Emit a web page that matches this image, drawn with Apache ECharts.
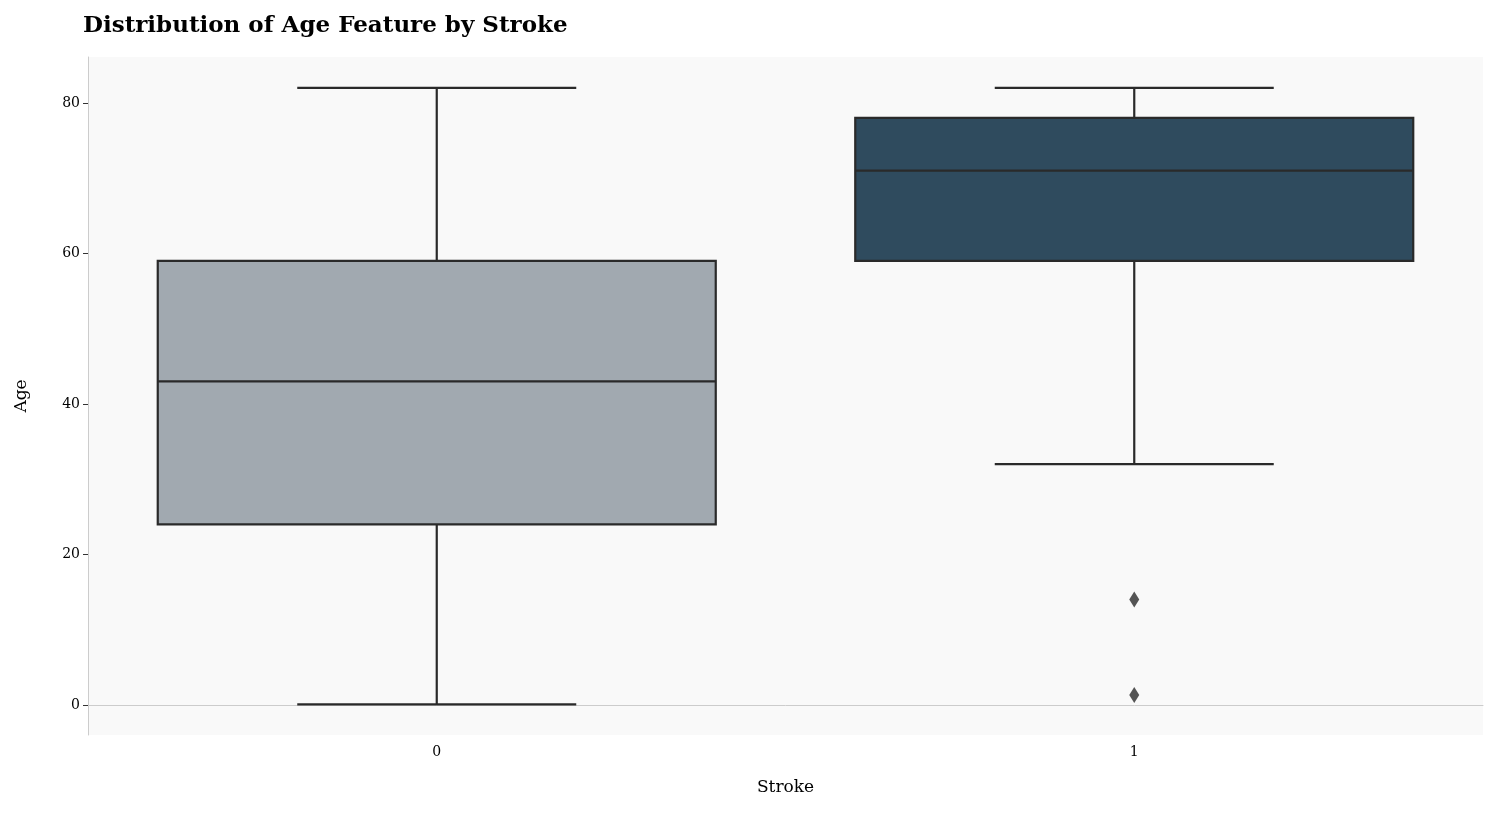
<!DOCTYPE html>
<html>
<head>
<meta charset="utf-8">
<script src="https://cdn.jsdelivr.net/npm/echarts@6/dist/echarts.min.js"></script>
<style>html,body{margin:0;padding:0;background:#fff}#chart{width:1497px;height:816px}</style>
</head>
<body>
<div id="chart"></div>
<script>
var categories = ['0', '1'];
// [min, q1, median, q3, max]
var boxStats = [
    [0.08, 24, 43, 59, 82],
    [32, 59, 71, 78, 82]
];
var outliers = [[1, 14], [1, 1.32]];
var boxColors = ['#a1a9b0', '#2f4b5e'];
var yTicks = [0, 20, 40, 60, 80];

var font = 'DejaVu Serif';
var boxData = boxStats.map(function (s, i) { return [i].concat(s); });

var myChart = echarts.init(document.getElementById('chart'));
var option = {
    backgroundColor: '#fff',
    title: {
        text: 'Distribution of Age Feature by Stroke',
        left: 78, top: 10,
        textStyle: { fontFamily: font, fontWeight: 'bold', fontSize: 23, color: '#000' }
    },
    grid: { left: 88, right: 14, top: 57, bottom: 81, show: true, backgroundColor: '#f9f9f9', borderWidth: 0 },
    xAxis: {
        type: 'category', data: categories, name: 'Stroke', nameLocation: 'middle', nameGap: 44,
        nameTextStyle: { fontFamily: font, fontSize: 17, color: '#000' },
        axisLine: { lineStyle: { color: '#cccccc' } },
        axisTick: { alignWithLabel: true, lineStyle: { color: '#333' } },
        axisLabel: { fontFamily: font, fontSize: 14, color: '#000', margin: 10 }
    },
    yAxis: {
        type: 'value', min: -4, max: 86.1, name: 'Age', nameLocation: 'middle', nameGap: 58,
        nameTextStyle: { fontFamily: font, fontSize: 17, color: '#000' },
        axisLine: { show: true, lineStyle: { color: '#cccccc' } },
        axisTick: { show: true, customValues: yTicks, lineStyle: { color: '#333' } },
        axisLabel: { customValues: yTicks, fontFamily: font, fontSize: 14, color: '#000' },
        splitLine: { show: false }
    },
    series: [{
        type: 'custom',
        data: boxData,
        encode: { x: 0, y: [1, 2, 3, 4, 5] },
        renderItem: function (params, api) {
            var i = api.value(0);
            var bw = api.size([1, 0])[0];
            var cx = api.coord([i, 0])[0];
            var y = [1, 2, 3, 4, 5].map(function (k) { return api.coord([i, api.value(k)])[1]; });
            var hb = bw * 0.4, hc = bw * 0.2;
            var st = { stroke: '#2a2a2a', lineWidth: 2.2 };
            return {
                type: 'group',
                children: [
                    { type: 'line', shape: { x1: cx, y1: y[0], x2: cx, y2: y[1] }, style: st },
                    { type: 'line', shape: { x1: cx, y1: y[3], x2: cx, y2: y[4] }, style: st },
                    { type: 'line', shape: { x1: cx - hc, y1: y[0], x2: cx + hc, y2: y[0] }, style: st },
                    { type: 'line', shape: { x1: cx - hc, y1: y[4], x2: cx + hc, y2: y[4] }, style: st },
                    { type: 'rect', shape: { x: cx - hb, y: y[3], width: hb * 2, height: y[1] - y[3] },
                      style: { fill: boxColors[i], stroke: '#2a2a2a', lineWidth: 2.2 } },
                    { type: 'line', shape: { x1: cx - hb, y1: y[2], x2: cx + hb, y2: y[2] }, style: st }
                ]
            };
        }
    }, {
        type: 'scatter',
        data: outliers,
        symbol: 'diamond',
        symbolSize: [10, 16],
        itemStyle: { color: '#2a2a2a' }
    }]
};
myChart.setOption(option);
</script>
</body>
</html>
